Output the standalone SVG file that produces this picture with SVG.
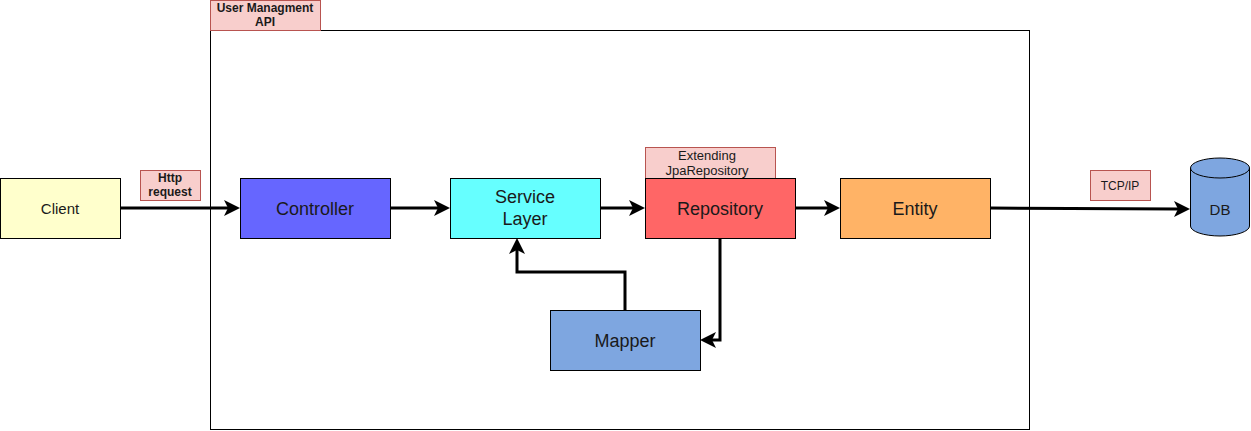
<svg xmlns="http://www.w3.org/2000/svg" width="1251" height="431" viewBox="0 0 1251 431">
<defs>
<style>
text{font-family:"Liberation Sans",Arial,sans-serif;fill:#1a1a1a;text-anchor:middle}
.box{stroke:#000;stroke-width:1}
.lbl{fill:#F8CECC;stroke:#B85450;stroke-width:1}
.t18{font-size:18px}
.t15{font-size:15px}
.t13{font-size:13px}
.t12{font-size:12px}
.b{font-weight:bold}
.conn{fill:none;stroke:#000;stroke-width:3}
</style>
</defs>
<rect width="1251" height="431" fill="#fff"/>
<g id="container">
<rect x="210.5" y="30.5" width="819" height="399" fill="none" stroke="#000" stroke-width="1"/>
</g>
<g id="api-label">
<rect class="lbl" x="210.5" y="0.5" width="110" height="30"/>
<text class="t12 b" x="265" y="12">User  Managment</text>
<text class="t12 b" x="265" y="26">API</text>
</g>
<g id="connectors">
<path class="conn" d="M120,208 L228,208"/>
<path class="conn" d="M390,208 L438,208"/>
<path class="conn" d="M600,208 L633,208"/>
<path class="conn" d="M795,208 L828,208"/>
<path class="conn" d="M990,208 L1178,209"/>
<path class="conn" d="M625,310 L625,272 L517,272 L517,250"/>
<path class="conn" d="M720,238 L720,340 L712,340"/>
<g fill="#000">
<path d="M240,208 L224,200 L228,208 L224,216 Z"/>
<path d="M450,208 L434,200 L438,208 L434,216 Z"/>
<path d="M645,208 L629,200 L633,208 L629,216 Z"/>
<path d="M840,208 L824,200 L828,208 L824,216 Z"/>
<path d="M1190,209 L1174,201 L1178,209 L1174,217 Z"/>
<path d="M517,238 L509,254 L517,250 L525,254 Z"/>
<path d="M700,340 L716,332 L712,340 L716,348 Z"/>
</g>
</g>
<g id="client">
<rect class="box" x="0.5" y="178.5" width="120" height="60" fill="#FFFFCC"/>
<text class="t15" x="60" y="214">Client</text>
</g>
<g id="http-label">
<rect class="lbl" x="140.5" y="170.5" width="60" height="30"/>
<text class="t12 b" x="170" y="182">Http</text>
<text class="t12 b" x="170" y="196">request</text>
</g>
<g id="controller">
<rect class="box" x="240.5" y="178.5" width="150" height="60" fill="#6666FF"/>
<text class="t18" x="315" y="215">Controller</text>
</g>
<g id="service">
<rect class="box" x="450.5" y="178.5" width="150" height="60" fill="#66FFFF"/>
<text class="t18" x="525" y="203">Service</text>
<text class="t18" x="525" y="225">Layer</text>
</g>
<g id="jpa-label">
<rect class="lbl" x="645.5" y="147.5" width="130" height="31"/>
<text class="t13" x="707" y="160">Extending</text>
<text class="t13" x="707" y="175">JpaRepository</text>
</g>
<g id="repository">
<rect class="box" x="645.5" y="178.5" width="150" height="60" fill="#FF6666"/>
<text class="t18" x="720" y="215">Repository</text>
</g>
<g id="entity">
<rect class="box" x="840.5" y="178.5" width="150" height="60" fill="#FFB366"/>
<text class="t18" x="915" y="215">Entity</text>
</g>
<g id="mapper">
<rect class="box" x="550.5" y="310.5" width="150" height="60" fill="#7EA6E0"/>
<text class="t18" x="625" y="347">Mapper</text>
</g>
<g id="tcp-label">
<rect class="lbl" x="1090.5" y="170.5" width="60" height="30"/>
<text class="t12" x="1120" y="190">TCP/IP</text>
</g>
<g id="db">
<path d="M1190.5,168 A29.5,10 0 0 1 1249.5,168 L1249.5,226 A29.5,10 0 0 1 1190.5,226 Z" fill="#7EA6E0" stroke="#000" stroke-width="1"/>
<path d="M1190.5,168 A29.5,10 0 0 0 1249.5,168" fill="none" stroke="#000" stroke-width="1"/>
<text class="t15" x="1220" y="215">DB</text>
</g>
</svg>
